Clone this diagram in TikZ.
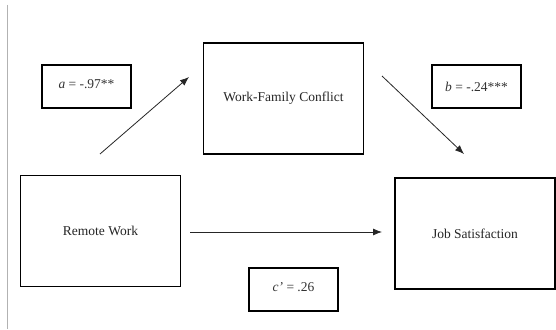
\documentclass[tikz,border=0pt]{standalone}
\usepackage{fontspec}
\setmainfont{Liberation Serif}
\usetikzlibrary{arrows.meta}
\begin{document}
\begin{tikzpicture}[x=1pt, y=-1pt, font=\fontsize{13.5}{15}\selectfont, line join=miter, >={Latex[length=9pt,width=7pt]}]
	% Khung hình
	\useasboundingbox (0,0) rectangle (556,329);
	\fill[white] (0,0) rectangle (556,329);
	% Đường dọc bên trái
	\draw[black!30, line width=1pt] (7.5,5) -- (7.5,329);
	% Kiểu hộp
	\tikzset{varbox/.style={draw, line width=1.4pt, minimum width=160pt, minimum height=111pt, inner sep=0pt, text=black!85},
		coefbox/.style={draw, line width=1.3pt, minimum width=89pt, minimum height=43pt, inner sep=0pt, text=black!80},
		path/.style={line width=0.8pt, black!85}}
	% Các biến
	\node[varbox] (RW) at (100.5,231) {Remote Work};
	\node[varbox] (WFC) at (283.5,98.5) {Work-Family Conflict};
	\node[varbox] (JS) at (475,233.5) {Job Satisfaction};
	% Các hệ số
	\node[coefbox] (a) at (86.5,86.5) {\raisebox{5pt}{\textit{a} = -.97**}};
	\node[coefbox] (b) at (476.5,86.5) {\textit{b} = -.24***};
	\node[coefbox] (c) at (293.5,289.5) {\raisebox{5pt}{\textit{c'} = .26}};
	% Điểm đầu và cuối mũi tên
	\coordinate (a1) at (100,154);
	\coordinate (a2) at (189,77);
	\coordinate (b1) at (382,76);
	\coordinate (b2) at (464,154);
	\coordinate (c1) at (190,232);
	\coordinate (c2) at (382,232);
	% Vẽ các mũi tên
	\draw[path, ->] (a1) -- (a2);
	\draw[path, ->] (b1) -- (b2);
	\draw[path, ->] (c1) -- (c2);
\end{tikzpicture}
\end{document}
